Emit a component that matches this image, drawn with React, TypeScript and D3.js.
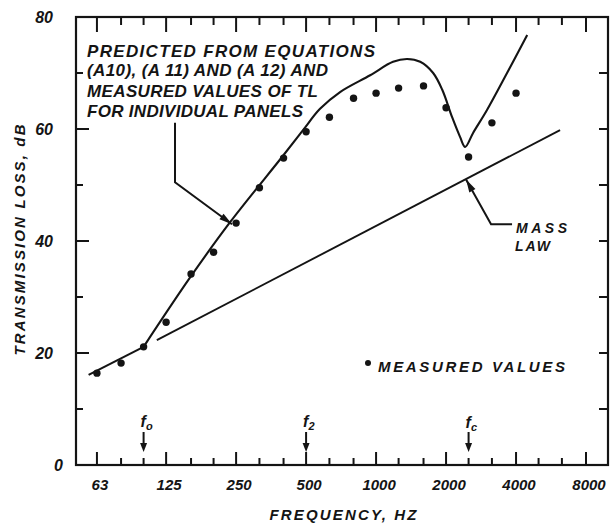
import React from 'react';
import * as d3 from 'd3';

// third-octave tick frequencies and octave labels
const freqTicks = [63, 80, 100, 125, 160, 200, 250, 315, 400, 500, 630, 800, 1000, 1250, 1600, 2000, 2500, 3150, 4000, 5000, 6300, 8000];
const octaveLabels = [63, 125, 250, 500, 1000, 2000, 4000, 8000];
const yTicks = [0, 10, 20, 30, 40, 50, 60, 70, 80];
const yLabels = [0, 20, 40, 60, 80];

// predicted TL, low-frequency straight part (up to f0)
const predLowFreq = [58, 100];
const predLowTL = [16.1, 21.1];
// predicted TL above f0
const predFreq = [100, 158, 236, 394, 485, 574, 700, 943, 1183, 1360, 1548, 1760, 1926, 2124, 2297, 2417, 2614, 3000, 3659, 4468];
const predTL = [21.1, 33.4, 43.4, 55.0, 59.8, 63.6, 66.6, 69.6, 72.0, 72.5, 72.0, 70.0, 67.0, 62.1, 58.6, 56.8, 59.3, 63.4, 70.0, 76.8];

// measured values
const measFreq = [63, 80, 100, 125, 160, 200, 250, 315, 400, 500, 630, 800, 1000, 1250, 1600, 2000, 2500, 3150, 4000];
const measTL = [16.4, 18.2, 21.1, 25.5, 34.1, 38.0, 43.2, 49.5, 54.8, 59.5, 62.1, 65.5, 66.4, 67.3, 67.7, 63.8, 55.0, 61.1, 66.4];

// mass law line
const massFreq = [114, 6185];
const massTL = [22.3, 59.8];

// marked frequencies
const markFreq = [100, 500, 2500];
const markSub = ['o', '2', 'c'];

const INK = '#141414';
const FONT = '"Liberation Sans", Arial, sans-serif';

function arrowHead(tx: number, ty: number, fx: number, fy: number, len = 12, half = 3.2) {
  const dx = tx - fx, dy = ty - fy;
  const d = Math.sqrt(dx * dx + dy * dy);
  const ux = dx / d, uy = dy / d;
  const bx = tx - ux * len, by = ty - uy * len;
  return `M${tx},${ty}L${bx - uy * half},${by + ux * half}L${bx + uy * half},${by - ux * half}Z`;
}

export default function App() {
  const W = 615, H = 523;
  const left = 76, right = 608, top = 17, bottom = 465;

  const x = d3.scaleLog().domain([51.2, 9945]).range([left, right]);
  const y = d3.scaleLinear().domain([0, 80]).range([bottom, top]);

  const lowLine = d3.line<number>()
    .x((_, i) => x(predLowFreq[i]))
    .y((_, i) => y(predLowTL[i]));

  const line = d3.line<number>()
    .x((_, i) => x(predFreq[i]))
    .y((_, i) => y(predTL[i]))
    .curve(d3.curveCatmullRom.alpha(0.5));

  const isOct = (f: number) => octaveLabels.includes(f);

  // leader for predicted curve (data coords)
  const p0 = [x(136.5), y(61.1)];
  const p1 = [x(136.5), y(50.5)];
  const p2 = [x(240), y(43.0)];
  // leader for mass law
  const m0 = [x(2438), y(51.0)];
  const m1 = [x(3123), y(43.0)];
  const m2 = [x(3845), y(43.0)];

  const txt = {
    fontFamily: FONT,
    fontWeight: 700 as const,
    fontStyle: 'italic' as const,
    fill: INK,
  };

  return (
    <svg width={W} height={H} style={{ position: 'absolute', left: 0, top: 0, background: '#fff' }}>
      {/* frame */}
      <rect x={left} y={top} width={right - left} height={bottom - top} fill="none" stroke={INK} strokeWidth={2.2} />

      {/* x ticks bottom and top */}
      {freqTicks.map(f => (
        <g key={f}>
          <line x1={x(f)} x2={x(f)} y1={bottom} y2={bottom - (isOct(f) ? 13 : 7)} stroke={INK} strokeWidth={2} />
          <line x1={x(f)} x2={x(f)} y1={top} y2={top + (isOct(f) ? 15 : 8)} stroke={INK} strokeWidth={2} />
        </g>
      ))}

      {/* y ticks left and right */}
      {yTicks.slice(1, -1).map(v => (
        <g key={v}>
          <line x1={left} x2={left + (v % 20 === 0 ? 13 : 7)} y1={y(v)} y2={y(v)} stroke={INK} strokeWidth={2} />
          <line x1={right} x2={right - 9} y1={y(v)} y2={y(v)} stroke={INK} strokeWidth={2} />
        </g>
      ))}

      {/* y labels */}
      {yLabels.map(v => (
        <text key={v} {...txt} x={v === 0 ? 63 : 53} y={y(v) + 6} fontSize={16} textAnchor="end">{v}</text>
      ))}

      {/* x labels */}
      {octaveLabels.map(f => (
        <text key={f} {...txt} x={x(f) + 3} y={490} fontSize={15} textAnchor="middle">{f}</text>
      ))}

      <text {...txt} x={343} y={520} fontSize={15} textAnchor="middle" textLength={147} lengthAdjust="spacing">FREQUENCY, HZ</text>
      <text {...txt} transform="translate(25,240) rotate(-90)" fontSize={15} textAnchor="middle" textLength={231} lengthAdjust="spacing">TRANSMISSION LOSS, dB</text>

      {/* mass law */}
      <line x1={x(massFreq[0])} y1={y(massTL[0])} x2={x(massFreq[1])} y2={y(massTL[1])} stroke={INK} strokeWidth={1.9} />

      {/* predicted */}
      <path d={lowLine(predLowTL) || ''} fill="none" stroke={INK} strokeWidth={2.1} strokeLinejoin="round" />
      <path d={line(predTL) || ''} fill="none" stroke={INK} strokeWidth={2.1} strokeLinejoin="round" />

      {/* measured */}
      {measTL.map((v, i) => (
        <circle key={i} cx={x(measFreq[i])} cy={y(v)} r={3.7} fill={INK} />
      ))}

      {/* frequency markers */}
      {markFreq.map((f, i) => (
        <g key={f}>
          <text {...txt} x={x(f) - 3} y={i === 2 ? 428 : 427} fontSize={16}>
            f<tspan fontSize={11} dy={3}>{markSub[i]}</tspan>
          </text>
          <line x1={x(f)} x2={x(f)} y1={432} y2={446} stroke={INK} strokeWidth={2} />
          <path d={arrowHead(x(f), 452, x(f), 432, 9, 3.5)} fill={INK} />
        </g>
      ))}

      {/* predicted annotation */}
      <polyline points={`${p0.join(',')} ${p1.join(',')} ${p2.join(',')}`} fill="none" stroke={INK} strokeWidth={2} />
      <path d={arrowHead(p2[0], p2[1], p1[0], p1[1], 13, 3.5)} fill={INK} />
      <text {...txt} x={87} y={57} fontSize={17} textLength={288} lengthAdjust="spacing">PREDICTED FROM EQUATIONS</text>
      <text {...txt} x={87} y={76} fontSize={17} textLength={241} lengthAdjust="spacing">(A10), (A 11) AND (A 12) AND</text>
      <text {...txt} x={87} y={97} fontSize={17} textLength={231} lengthAdjust="spacing">MEASURED VALUES OF TL</text>
      <text {...txt} x={87} y={117} fontSize={17} textLength={216} lengthAdjust="spacing">FOR INDIVIDUAL PANELS</text>

      {/* mass law annotation */}
      <polyline points={`${m0.join(',')} ${m1.join(',')} ${m2.join(',')}`} fill="none" stroke={INK} strokeWidth={2} />
      <path d={arrowHead(m0[0], m0[1], m1[0], m1[1], 13, 3.5)} fill={INK} />
      <text {...txt} x={516} y={233} fontSize={14} textLength={51} lengthAdjust="spacing">MASS</text>
      <text {...txt} x={515} y={251} fontSize={14} textLength={35} lengthAdjust="spacing">LAW</text>

      {/* legend */}
      <circle cx={368} cy={363} r={3} fill={INK} />
      <text {...txt} x={378} y={372} fontSize={15} textLength={187} lengthAdjust="spacing">MEASURED VALUES</text>
    </svg>
  );
}
